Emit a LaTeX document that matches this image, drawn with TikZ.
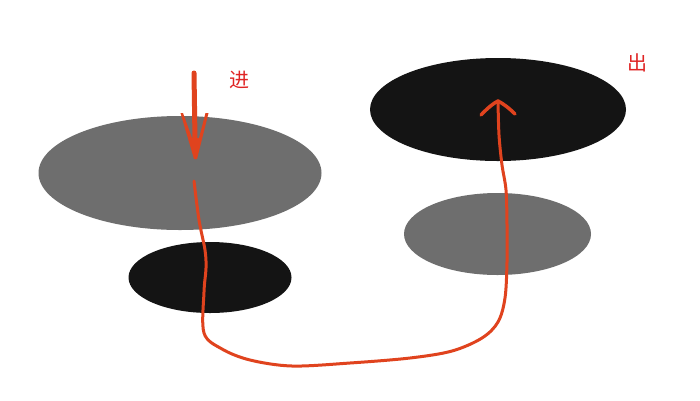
\documentclass[tikz,border=0pt]{standalone}
\usepackage{fontspec}
\newfontfamily\cjk{Noto Sans CJK SC}
\usetikzlibrary{shapes.geometric}
\definecolor{pen}{HTML}{E0431E}
\definecolor{lbl}{HTML}{E02424}
\definecolor{lightgray}{HTML}{6E6E6E}
\definecolor{darkblack}{HTML}{141414}
\tikzset{
  blob/.style={ellipse, inner sep=0pt, draw=none},
  penline/.style={draw=pen, line width=3pt, line cap=round, line join=round},
  thickpen/.style={draw=pen, line width=5pt, line cap=round, line join=round},
  lab/.style={text=lbl, font=\cjk\fontsize{20}{20}\selectfont, inner sep=0pt}
}
\begin{document}
\begin{tikzpicture}[x=1pt,y=-1pt]
\useasboundingbox (0,0) rectangle (700,400);
\fill[white] (0,0) rectangle (700,400);
% ellipses
\node[blob, fill=lightgray, minimum width=283pt, minimum height=114pt] (lg) at (180,173) {};
\node[blob, fill=darkblack, minimum width=163pt, minimum height=71pt] (lb) at (210,277.5) {};
\node[blob, fill=darkblack, minimum width=256pt, minimum height=103pt] (rb) at (498,109.5) {};
\node[blob, fill=lightgray, minimum width=187pt, minimum height=82pt] (rg) at (497.5,234) {};
% labels
\node[lab] (jin) at (239,80) {进};
\node[lab] (chu) at (637,63) {出};
% in arrow
\coordinate (ina) at (194,73);
\coordinate (intip) at (195.5,159);
\coordinate (inl) at (180.5,113);
\coordinate (inr) at (208.5,113);
\draw[thickpen] (ina) -- (195,140);
\fill[pen] (inl) -- (183,113) -- (192,138) -- (199,138) -- (205.5,113) -- (inr) -- (197,159) -- (intip) -- (194,159) -- cycle;
% long path
\coordinate (pstart) at (194,181);
\coordinate (pend) at (498,101);
\draw[penline] plot[smooth, tension=0.55] coordinates {(pstart) (199,220) (205,250) (206,268) (204,292) (204,333) (222,349) (250,360) (292,366) (350,363) (410,358) (452,351) (482,338) (498,322) (505,298) (507,262) (507,225) (506,190) (502,165) (499,135) (pend)};
% out arrowhead
\coordinate (outl) at (481,115);
\coordinate (outr) at (515,114);
\draw[penline, line width=3.5pt] (outl) .. controls (488,107.5) and (494,103) .. (pend) .. controls (503,103.5) and (509,108) .. (outr);
\end{tikzpicture}
\end{document}
